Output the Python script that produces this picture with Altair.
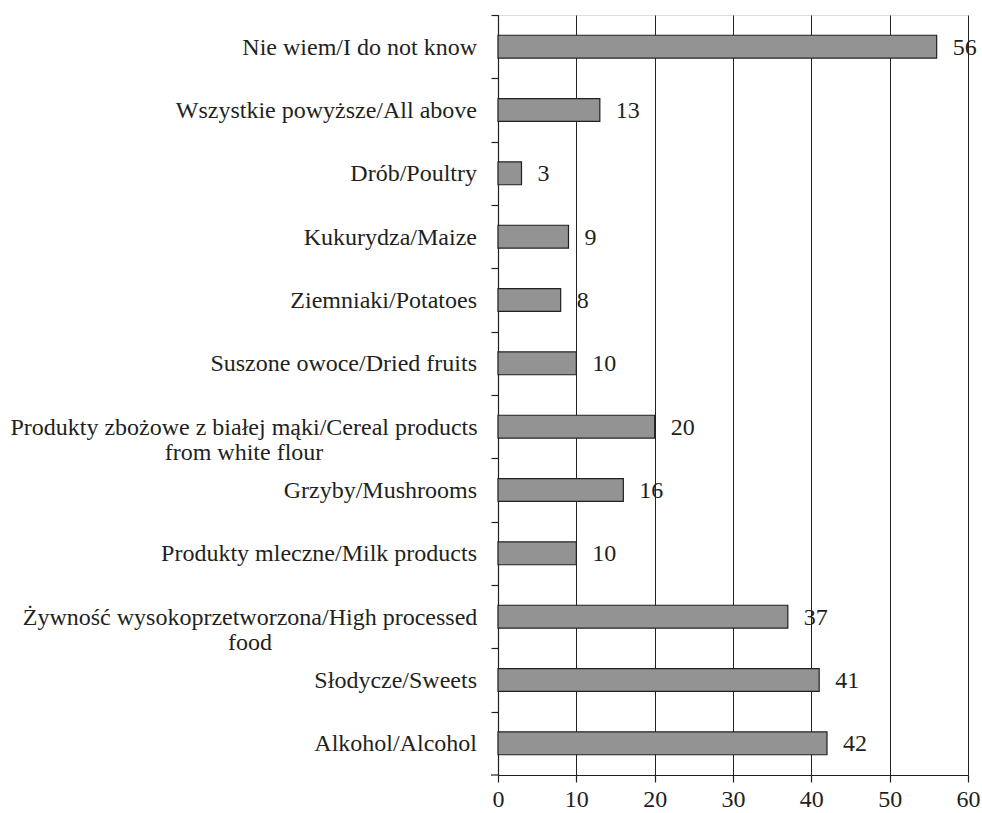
import altair as alt
import pandas as pd

categories = [
    "Nie wiem/I do not know",
    "Wszystkie powyższe/All above",
    "Drób/Poultry",
    "Kukurydza/Maize",
    "Ziemniaki/Potatoes",
    "Suszone owoce/Dried fruits",
    "Produkty zbożowe z białej mąki/Cereal products\nfrom white flour",
    "Grzyby/Mushrooms",
    "Produkty mleczne/Milk products",
    "Żywność wysokoprzetworzona/High processed\nfood",
    "Słodycze/Sweets",
    "Alkohol/Alcohol",
]
values = [56, 13, 3, 9, 8, 10, 20, 16, 10, 37, 41, 42]
x_ticks = [0, 10, 20, 30, 40, 50, 60]

df = pd.DataFrame({"cat": categories, "val": values})

FONT = "Liberation Serif"
FS = 24
INK = "#231f20"
W, H = 470, 760
STEP = H / len(categories)

yscale = alt.Scale(paddingInner=0.64, paddingOuter=0.32)
ycat = alt.Y("cat:N", sort=None, scale=yscale,
             axis=alt.Axis(title=None, labels=False, tickOffset=-STEP / 2, tickSize=7,
                           domainColor=INK, tickColor=INK, domainWidth=1.2, tickWidth=1.2,
                           grid=False))
xq = alt.X("val:Q", scale=alt.Scale(domain=[0, 60], nice=False),
           axis=alt.Axis(title=None, values=x_ticks, grid=True, gridColor="#222",
                         gridWidth=1, tickSize=7, tickColor=INK, domainColor=INK,
                         domainWidth=1.2, tickWidth=1.2, labelFont=FONT, labelFontSize=FS,
                         labelColor=INK, labelPadding=5, labelFlush=False))

base = alt.Chart(df)

bars = base.mark_bar(fill="#939393", stroke=INK, strokeWidth=1.2).encode(x=xq, y=ycat)

vals = base.mark_text(align="left", baseline="middle", dx=16, dy=1, font=FONT,
                      fontSize=FS, color=INK).encode(
    x="val:Q", y=alt.Y("cat:N", sort=None), text="val:Q")

single = base.transform_filter("indexof(datum.cat, '\\n') < 0").mark_text(
    align="right", baseline="middle", font=FONT, fontSize=FS, color=INK, dy=1
).encode(x=alt.value(-21), y=alt.Y("cat:N", sort=None), text="cat:N")

multi_a = base.transform_filter("indexof(datum.cat, 'Produkty zbożowe') >= 0").mark_text(
    align="center", baseline="middle", font=FONT, fontSize=FS, color=INK,
    lineBreak="\n", lineHeight=25, dy=1
).encode(x=alt.value(-254), y=alt.Y("cat:N", sort=None), text="cat:N")

multi_b = base.transform_filter("indexof(datum.cat, 'Żywność') >= 0").mark_text(
    align="center", baseline="middle", font=FONT, fontSize=FS, color=INK,
    lineBreak="\n", lineHeight=25, dy=1
).encode(x=alt.value(-248), y=alt.Y("cat:N", sort=None), text="cat:N")

bottom_tick = alt.Chart(pd.DataFrame({"k": [0]})).mark_rule(
    color=INK, strokeWidth=1.2
).encode(x=alt.value(-7), x2=alt.value(0), y=alt.value(H))

chart = alt.layer(bars, vals, single, multi_a, multi_b, bottom_tick).properties(
    width=W, height=H,
    autosize=alt.AutoSizeParams(type="none"),
    padding={"left": 498, "top": 15, "right": 14, "bottom": 38},
).configure_view(stroke=None).configure(background="white")

chart.save("out.html", embed_options={"renderer": "svg", "actions": False})
